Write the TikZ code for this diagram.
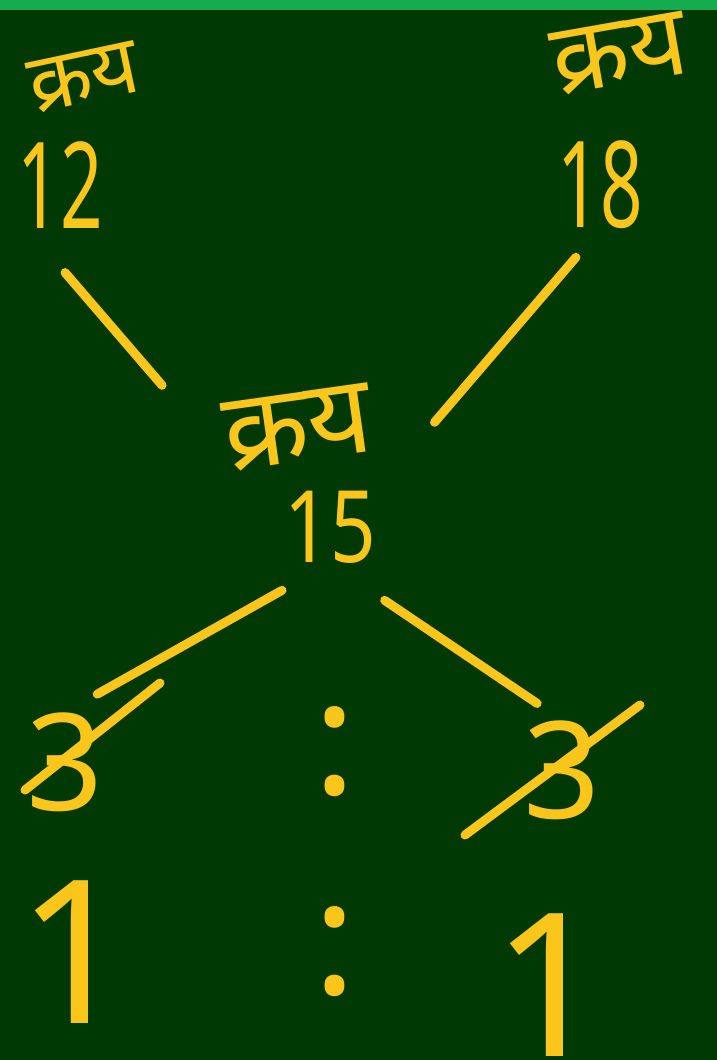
\documentclass[tikz,border=0pt]{standalone}
\usepackage{fontspec}
\setmainfont{Noto Sans}
\newfontfamily\hindi[Script=Devanagari]{Noto Sans}
\usepackage{xcolor}
\definecolor{board}{RGB}{1,57,4}
\definecolor{chalk}{RGB}{250,198,28}
\definecolor{topbar}{RGB}{20,172,78}
\usetikzlibrary{positioning,calc}

\begin{document}
\begin{tikzpicture}[x=1pt,y=-1pt,
        word/.style={text=chalk, inner sep=0pt, font=\hindi\fontsize{#1}{#1}\selectfont},
        num/.style={text=chalk, inner sep=0pt, font=\fontsize{#1}{#1}\selectfont},
        stroke/.style={draw=chalk, line width=9pt, line cap=round}
    ]
        \fill[board] (0,0) rectangle (717,1060);
        \fill[topbar] (0,0) rectangle (717,10);
        \useasboundingbox (0,0) rectangle (717,1060);

        \node[word=82, rotate=12] (k12) at (84,78) {क्रय};
        \node[num=120] (n12) at (60,185) {\scalebox{0.62}[1]{12}};
        \node[word=100, rotate=10] (k18) at (620,54) {क्रय};
        \node[num=120] (n18) at (600,185) {\scalebox{0.62}[1]{18}};
        \node[word=110, rotate=8] (k15) at (298,428) {क्रय};
        \node[num=100] (n15) at (330,527) {\scalebox{0.8}[1]{15}};

        \node[num=135] (lthree) at (65,762) {3};
        \node[num=135] (rthree) at (562,770) {3};
        \node[num=160] (cola) at (335,752) {:};
        \node[num=160] (colb) at (335,952) {:};
        \node[num=200] (lone) at (75,952) {1};
        \node[num=200] (rone) at (550,985) {1};

        \draw[stroke, shorten <=58pt, shorten >=187pt] ([xshift=10pt]n12.south west) -- (n15.west);
        \draw[stroke, shorten <=37pt, shorten >=90pt] (n18.south) -- (n15.north east);
        \draw[stroke, shorten <=55pt, shorten >=37pt] (n15.south) -- (lthree.north);
        \draw[stroke, shorten <=66pt, shorten >=30pt] (n15.south) -- (rthree.north);

        \draw[stroke] ([shift={(-40,28)}]lthree.center) -- ([shift={(95,-79)}]lthree.center);
        \draw[stroke] ([shift={(-97,65)}]rthree.center) -- ([shift={(78,-65)}]rthree.center);
    \end{tikzpicture}
\end{document}
